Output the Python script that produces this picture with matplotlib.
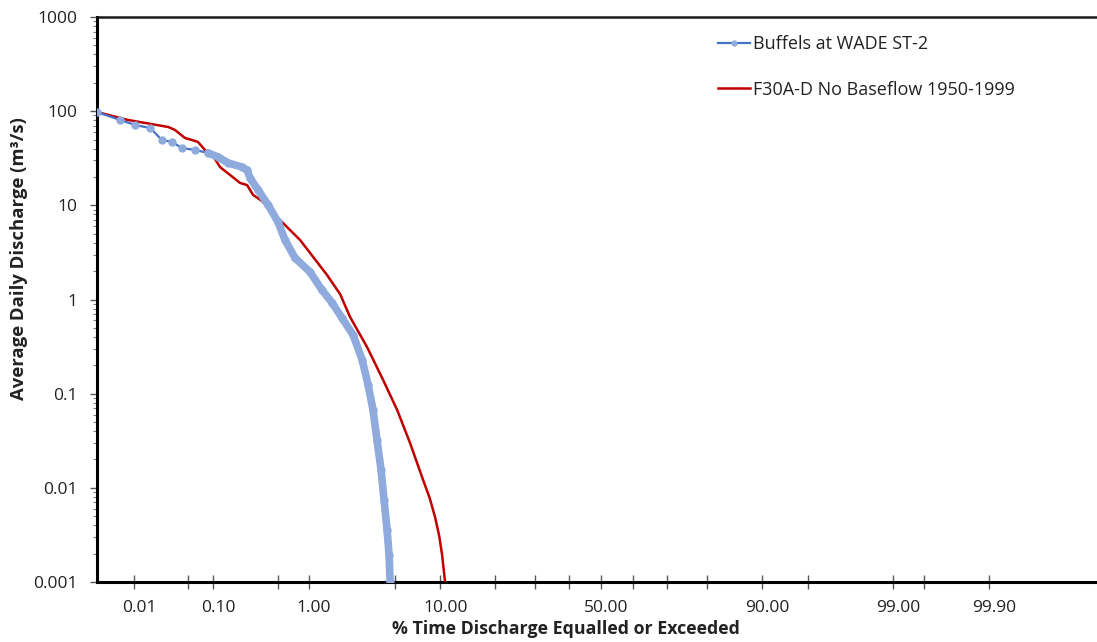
import numpy as np
import matplotlib
matplotlib.use("Agg")
import matplotlib.pyplot as plt
from matplotlib.transforms import ScaledTranslation
from statistics import NormalDist

# ---------------- data (percent of time exceeded, discharge m3/s) ----------------
buffels_pct = [0.00296, 0.00636, 0.0103, 0.0164, 0.0234, 0.0315, 0.042, 0.061, 0.087,
               0.114, 0.148, 0.211, 0.24, 0.258, 0.314, 0.399, 0.503, 0.59, 0.738,
               1.02, 1.31, 1.61, 1.95, 2.41, 2.85, 3.17, 3.46, 3.71, 3.98, 4.19,
               4.41, 4.56, 4.64]
buffels_q = [98, 80.6, 71.3, 66.2, 49.4, 47.1, 40.6, 38.7, 36.0,
             32.6, 28.2, 25.5, 23.7, 19.5, 14.6, 10.1, 6.65, 4.28, 2.76,
             1.96, 1.26, 0.918, 0.637, 0.42, 0.228, 0.124, 0.0671, 0.0322, 0.0155, 0.00743,
             0.00356, 0.00194, 0.001]

f30_pct = [0.00296, 0.00823, 0.0282, 0.0344, 0.0458, 0.0558, 0.066, 0.080, 0.0995,
           0.120, 0.156, 0.201, 0.24, 0.278, 0.346, 0.39, 0.526, 0.66, 0.824,
           1.09, 1.45, 1.88, 2.275, 3.11, 4.12, 5.21, 6.40, 7.81, 8.6, 9.29, 9.85, 10.26, 10.69]
f30_q = [98, 80.6, 67.9, 63.1, 51.9, 49.4, 47.1, 38.7, 33.4,
         25.5, 21.0, 17.3, 16.4, 12.9, 11.1, 9.6, 6.98, 5.47, 4.28,
         2.83, 1.82, 1.14, 0.652, 0.313, 0.140, 0.0671, 0.0299, 0.0121, 0.0078, 0.0049, 0.0031, 0.00195, 0.001]

x_major = [0.01, 0.10, 1.00, 10.00, 50.00, 90.00, 99.00, 99.90]
x_major_labels = ["0.01", "0.10", "1.00", "10.00", "50.00", "90.00", "99.00", "99.90"]
x_minor = [0.05, 0.5, 5, 20, 30, 40, 60, 70, 80, 95, 99.5]
y_major = [0.001, 0.01, 0.1, 1, 10, 100, 1000]
y_major_labels = ["0.001", "0.01", "0.1", "1", "10", "100", "1000"]

series1_label = "Buffels at WADE ST-2"
series2_label = "F30A-D No Baseflow 1950-1999"
xlabel = "% Time Discharge Equalled or Exceeded"
ylabel = "Average Daily Discharge (m\u00b3/s)"

# ---------------- probability scale ----------------
_nd = NormalDist()
_ppf = np.vectorize(lambda v: _nd.inv_cdf(min(max(v / 100.0, 1e-12), 1 - 1e-12)), otypes=[float])
_cdf = np.vectorize(lambda z: _nd.cdf(z) * 100.0, otypes=[float])

def fwd(x):
    return _ppf(np.asarray(x, dtype=float))

def inv(z):
    return _cdf(np.asarray(z, dtype=float))

plt.rcParams['font.family'] = ['Open Sans', 'DejaVu Sans']

W, H = 1097, 642
fig = plt.figure(figsize=(W / 100, H / 100), dpi=100)
ax = fig.add_axes([97 / W, 1 - 582 / H, 1 - 97 / W, (582 - 17) / H])

ax.set_xscale('function', functions=(fwd, inv))
ax.set_yscale('log')

# series
ax.plot(f30_pct, f30_q, color='#C00000', lw=1.8, zorder=3, label=series2_label)
ax.plot(buffels_pct, buffels_q, color='#4472C4', lw=1.6, marker='o', ms=5,
        mfc='#8FAADC', mec='#8FAADC', zorder=4, label=series1_label)
# dense marker band of the observed record
dense = [i for i, p in enumerate(buffels_pct) if p >= 0.08]
ax.plot([buffels_pct[i] for i in dense], [buffels_q[i] for i in dense],
        color='#8FAADC', lw=5.5, solid_capstyle='round', zorder=4.5)

ax.set_xlim(0.00296, 99.9961)
ax.set_ylim(0.001, 1000)

ax.set_xticks(x_major)
ax.set_xticklabels(x_major_labels)
ax.set_xticks(x_minor, minor=True)
ax.xaxis.set_minor_formatter(matplotlib.ticker.NullFormatter())
ax.tick_params(axis='x', which='both', direction='inout', length=10, width=1,
               color='#595959', labelsize=12.5, pad=8, labelcolor='#222222')
for lbl in ax.get_xticklabels():
    lbl.set_transform(lbl.get_transform() + ScaledTranslation(5 / 100, 0, fig.dpi_scale_trans))

ax.set_yticks(y_major)
ax.set_yticklabels(y_major_labels)
ax.yaxis.set_minor_locator(matplotlib.ticker.LogLocator(base=10, subs=np.arange(2, 10)))
ax.yaxis.set_minor_formatter(matplotlib.ticker.NullFormatter())
ax.tick_params(axis='y', which='major', direction='out', length=5, width=1,
               color='#595959', labelsize=12.5, pad=9, labelcolor='#222222')
ax.tick_params(axis='y', which='minor', direction='out', length=3, width=0.8, color='#7f7f7f')

for s in ['left', 'bottom']:
    ax.spines[s].set_linewidth(2.2)
    ax.spines[s].set_color('black')
ax.spines['top'].set_linewidth(1.8)
ax.spines['top'].set_color('#1a1a1a')
ax.spines['right'].set_visible(False)

fig.text(566 / W, 1 - 629 / H, xlabel, ha='center', va='center',
         fontsize=12.8, fontweight='bold', color='#222222')
fig.text(19 / W, 1 - 259 / H, ylabel, ha='center', va='center', rotation=90,
         fontsize=13.3, fontweight='bold', color='#222222')

handles, labels = ax.get_legend_handles_labels()
order = [1, 0]
leg = fig.legend([handles[i] for i in order], [labels[i] for i in order],
                 loc='upper left', bbox_to_anchor=(718 / W, 1 - 35 / H),
                 frameon=False, fontsize=13, handlelength=1.75, handletextpad=0.2,
                 labelspacing=1.53, borderpad=0, borderaxespad=0, markerscale=0.7)
for t in leg.get_texts():
    t.set_color('#222222')

fig.savefig('out.png', dpi=100)
